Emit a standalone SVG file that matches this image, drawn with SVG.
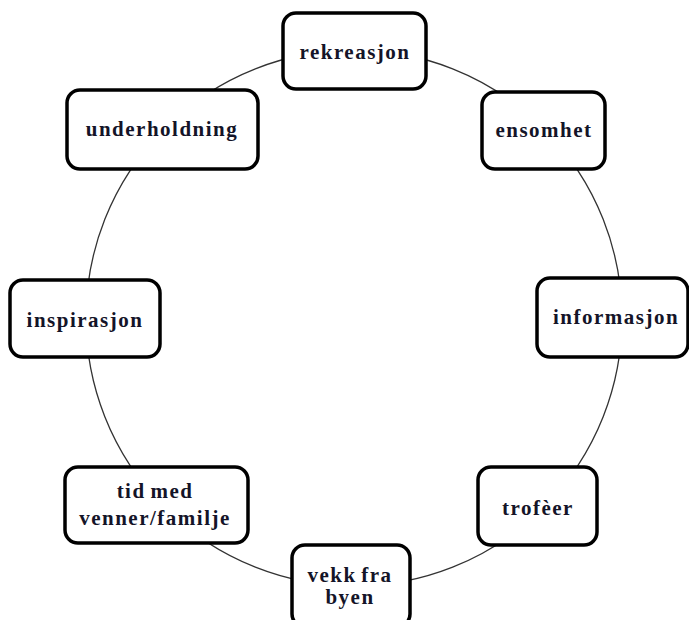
<svg xmlns="http://www.w3.org/2000/svg" width="689" height="620" viewBox="0 0 689 620">
<style>
.box{fill:#fff;stroke:#000;stroke-width:3.5}
.lbl{font-family:"Liberation Serif","Times New Roman",serif;font-weight:bold;font-size:21px;letter-spacing:1.5px;word-spacing:-2px;fill:#141428;text-anchor:middle}
.ring{fill:none;stroke:#333;stroke-width:1.3}
</style>
<rect width="689" height="620" fill="#fff"/>
<g id="connectors">
<circle class="ring" cx="354" cy="318" r="268"/>
</g>
<g id="rekreasjon"><rect class="box" x="283" y="13" width="143" height="76" rx="13"/><text class="lbl" x="355" y="59">rekreasjon</text></g>
<g id="underholdning"><rect class="box" x="67" y="90" width="191" height="79" rx="13"/><text class="lbl" x="162" y="136">underholdning</text></g>
<g id="ensomhet"><rect class="box" x="482" y="92" width="123" height="77" rx="13"/><text class="lbl" x="544" y="137">ensomhet</text></g>
<g id="inspirasjon"><rect class="box" x="10" y="280" width="150" height="77" rx="13"/><text class="lbl" x="85" y="327">inspirasjon</text></g>
<g id="informasjon"><rect class="box" x="537" y="278" width="151" height="79" rx="13"/><text class="lbl" x="616" y="324">informasjon</text></g>
<g id="tid-med"><rect class="box" x="65" y="467" width="183" height="76" rx="13"/><text class="lbl" x="155" y="498">tid med</text><text class="lbl" x="155" y="525">venner/familje</text></g>
<g id="vekk-fra-byen"><rect class="box" x="292" y="545" width="118" height="82" rx="13"/><text class="lbl" x="350" y="582">vekk fra</text><text class="lbl" x="350" y="604">byen</text></g>
<g id="trofeer"><rect class="box" x="478" y="467" width="119" height="78" rx="13"/><text class="lbl" x="538" y="515">trofèer</text></g>
</svg>
